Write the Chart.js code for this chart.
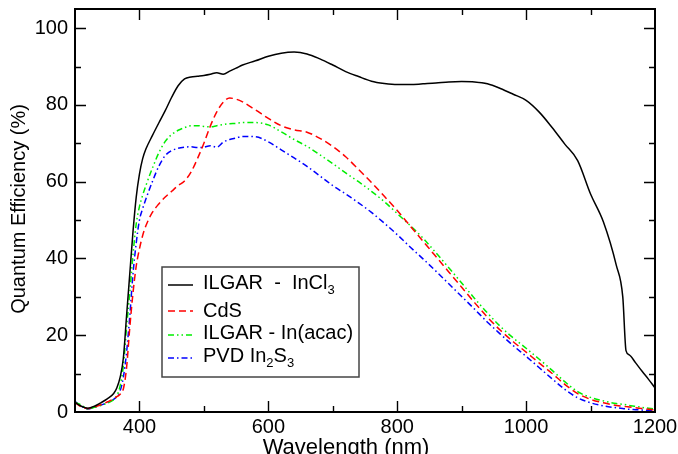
<!DOCTYPE html>
<html>
<head>
<meta charset="utf-8">
<script src="https://cdn.jsdelivr.net/npm/chart.js@4.4.1/dist/chart.umd.min.js"></script>
<style>
  html, body { margin: 0; padding: 0; background: #fff; }
  #wrap { width: 678px; height: 454px; }
</style>
</head>
<body>
<div id="wrap"><canvas id="myChart" width="678" height="454"></canvas></div>
<script>
// wavelength grid (nm) shared by all curves
var wavelength = [300, 310, 320, 330, 340, 350, 360, 365, 370, 375, 380, 385, 390, 395, 400, 405, 410,
  420, 430, 440, 450, 460, 470, 480, 490, 500, 510, 520, 530, 540, 550, 560,
  580, 600, 620, 640, 660, 680, 700, 720, 740, 760, 780, 800, 820, 840, 860, 880, 900, 920, 940, 960, 980,
  1000, 1020, 1040, 1060, 1080, 1100, 1120, 1140, 1150, 1155, 1160, 1170, 1180, 1190, 1200];

// quantum efficiency (%)
var qeInCl3 = [2.5, 1.5, 1.0, 1.5, 2.4, 3.4, 4.8, 6.3, 9.0, 14, 25, 36, 47, 56, 62, 66, 68.5,
  72, 75.3, 78.5, 82, 85, 86.8, 87.3, 87.5, 87.7, 88.0, 88.4, 88.0, 88.8, 89.6, 90.4,
  91.5, 92.7, 93.5, 93.8, 93.3, 92.0, 90.4, 88.7, 87.4, 86.2, 85.6, 85.3, 85.3, 85.5, 85.7, 86.0, 86.1, 86.0, 85.5, 84.3, 82.8,
  81.2, 78.2, 74.2, 69.8, 65.5, 56.8, 49.5, 38.2, 30, 16, 14.9, 12.8, 10.6, 8.5, 6.3];

var qeCdS = [2.5, 1.3, 0.9, 1.3, 1.9, 2.6, 3.4, 4.0, 4.6, 6.0, 11.5, 22, 31, 38, 42.5, 46, 48.5,
  52, 54.2, 56, 57.5, 59, 60.2, 62.5, 66, 70, 74.5, 78.2, 80.7, 81.8, 81.5, 80.8,
  78.7, 76.5, 74.6, 73.5, 72.9, 71.3, 69.2, 66.5, 63.2, 59.8, 56.2, 52.5, 48.5, 44.5, 40.5, 36.5, 32.5, 28.5, 24.7, 21.3, 18.3,
  15.6, 12.8, 10.1, 7.2, 4.8, 3.3, 2.4, 1.7, 1.5, 1.4, 1.3, 1.1, 0.9, 0.7, 0.5];

var qeAcac = [2.5, 1.8, 0.8, 1.2, 1.7, 2.3, 3.2, 4.3, 6.8, 12, 22, 31, 41, 49, 53.5, 56.5, 59,
  63.5, 67.5, 70.5, 72.3, 73.4, 74.1, 74.6, 74.6, 74.4, 74.3, 74.6, 74.9, 75.1, 75.2, 75.4,
  75.4, 74.8, 73, 71, 69.2, 67, 64.7, 62.3, 60, 57.5, 54.8, 51.7, 48.6, 45.3, 41.5, 37.6, 33.6, 29.6, 25.8, 22.3, 19.3,
  16.6, 13.8, 10.9, 7.9, 5.3, 3.8, 2.9, 2.2, 2.0, 1.9, 1.7, 1.5, 1.2, 1.0, 0.8];

var qePvd = [2.8, 1.5, 0.8, 1.2, 1.8, 2.4, 3.3, 4.0, 5.5, 9, 15.5, 25, 36, 44, 50, 53, 55.5,
  60, 64, 66.8, 68.1, 68.7, 69, 69.1, 68.9, 69, 69.4, 69, 70.3, 71, 71.4, 71.8,
  71.7, 70.4, 68.3, 66.2, 64, 61.5, 59, 56.8, 54.5, 52, 49.2, 46.2, 43, 39.9, 36.7, 33.4, 30.1, 26.8, 23.4, 20.3, 17.3,
  14.5, 11.6, 8.7, 5.9, 3.7, 2.4, 1.6, 1.1, 0.9, 0.8, 0.7, 0.6, 0.5, 0.4, 0.3];

var xTicks = [400, 600, 800, 1000, 1200];
var yTicks = [0, 20, 40, 60, 80, 100];

// legend text, pieces with sub: true are subscripts
var legendText = [
  [{ t: "ILGAR  -  InCl" }, { t: "3", sub: true }],
  [{ t: "CdS" }],
  [{ t: "ILGAR - In(acac)" }],
  [{ t: "PVD In" }, { t: "2", sub: true }, { t: "S" }, { t: "3", sub: true }]
];

var FONT = "'Liberation Sans', Arial, Helvetica, sans-serif";

function toPoints(ys) {
  return wavelength.map(function (w, i) { return { x: w, y: ys[i] }; });
}

function line(ys, color, dash) {
  return {
    data: toPoints(ys),
    borderColor: color,
    backgroundColor: color,
    borderWidth: 1.5,
    borderDash: dash,
    pointRadius: 0,
    cubicInterpolationMode: "monotone",
    fill: false
  };
}

var data = {
  datasets: [
    line(qeInCl3, "#000000", []),
    line(qeCdS, "#ff0000", [7, 4]),
    line(qeAcac, "#00ee00", [6, 3, 1.5, 3, 1.5, 3]),
    line(qePvd, "#0000ff", [6, 3, 1.5, 3])
  ]
};

// box round the plot, inward ticks on all four sides
var frameTicks = {
  id: "frameTicks",
  afterDatasetsDraw: function (chart) {
    var ctx = chart.ctx, a = chart.chartArea, x = chart.scales.x, y = chart.scales.y;
    ctx.save();
    ctx.strokeStyle = "#000";
    ctx.lineWidth = 1.4;
    ctx.beginPath();
    for (var v = 400; v < 1200; v += 100) {
      var px = Math.round(x.getPixelForValue(v)) + 0.5;
      var len = v % 200 === 0 ? 11 : 6;
      ctx.moveTo(px, a.bottom); ctx.lineTo(px, a.bottom - len);
      ctx.moveTo(px, a.top); ctx.lineTo(px, a.top + len);
    }
    for (var k = 10; k <= 100; k += 10) {
      var py = Math.round(y.getPixelForValue(k)) + 0.5;
      var l2 = k % 20 === 0 ? 11 : 6;
      ctx.moveTo(a.left, py); ctx.lineTo(a.left + l2, py);
      ctx.moveTo(a.right, py); ctx.lineTo(a.right - l2, py);
    }
    ctx.stroke();
    ctx.lineWidth = 2;
    ctx.strokeRect(a.left, a.top, a.right - a.left, a.bottom - a.top);

    // axis titles
    ctx.fillStyle = "#000";
    ctx.textAlign = "center";
    ctx.textBaseline = "middle";
    ctx.font = "22px " + FONT;
    ctx.fillText("Wavelength (nm)", 346, 448);
    ctx.font = "20px " + FONT;
    ctx.translate(19, 209);
    ctx.rotate(-Math.PI / 2);
    ctx.fillText("Quantum Efficiency (%)", 0, 0);
    ctx.restore();
  }
};

// legend box drawn inside the plot
var legendBox = {
  id: "legendBox",
  afterDraw: function (chart) {
    var ctx = chart.ctx;
    var box = { left: 162, top: 267, right: 359, bottom: 377 };
    var lineY = [285, 311, 335, 358];
    var baseY = [288.5, 316.5, 338.5, 361.5];
    ctx.save();
    ctx.fillStyle = "#fff";
    ctx.fillRect(box.left, box.top, box.right - box.left, box.bottom - box.top);
    ctx.strokeStyle = "#444";
    ctx.lineWidth = 1.5;
    ctx.strokeRect(box.left, box.top, box.right - box.left, box.bottom - box.top);
    chart.data.datasets.forEach(function (ds, i) {
      ctx.strokeStyle = ds.borderColor;
      ctx.lineWidth = 1.5;
      ctx.setLineDash(ds.borderDash);
      ctx.beginPath();
      ctx.moveTo(168, lineY[i]);
      ctx.lineTo(193, lineY[i]);
      ctx.stroke();
      ctx.setLineDash([]);
      var tx = 203;
      ctx.fillStyle = "#000";
      ctx.textAlign = "left";
      ctx.textBaseline = "alphabetic";
      legendText[i].forEach(function (p) {
        ctx.font = (p.sub ? "13px " : "20px ") + FONT;
        ctx.fillText(p.t, tx, baseY[i] + (p.sub ? 5 : 0));
        tx += ctx.measureText(p.t).width;
      });
    });
    ctx.restore();
  }
};

function plain(v) { return String(v); }

var config = {
  type: "line",
  data: data,
  options: {
    responsive: false,
    animation: false,
    layout: { padding: { top: 9, right: 23, left: 0, bottom: 0 } },
    plugins: { legend: { display: false }, tooltip: { enabled: false } },
    scales: {
      x: {
        type: "linear",
        min: 300,
        max: 1200,
        afterBuildTicks: function (s) { s.ticks = xTicks.map(function (v) { return { value: v }; }); },
        afterFit: function (s) { s.height = 42; s.paddingLeft = 0; s.paddingRight = 0; },
        grid: { display: false, drawTicks: false },
        border: { display: false },
        ticks: { color: "#000", padding: 3, maxRotation: 0, callback: plain, font: { family: FONT, size: 20 } }
      },
      y: {
        type: "linear",
        min: 0,
        max: 105,
        afterBuildTicks: function (s) { s.ticks = yTicks.map(function (v) { return { value: v }; }); },
        afterFit: function (s) { s.width = 75; s.paddingTop = 0; s.paddingBottom = 0; },
        grid: { display: false, drawTicks: false },
        border: { display: false },
        ticks: { color: "#000", padding: 7, callback: plain, font: { family: FONT, size: 20 } }
      }
    }
  },
  plugins: [frameTicks, legendBox]
};

var myChart = new Chart(document.getElementById("myChart"), config);
</script>
</body>
</html>
